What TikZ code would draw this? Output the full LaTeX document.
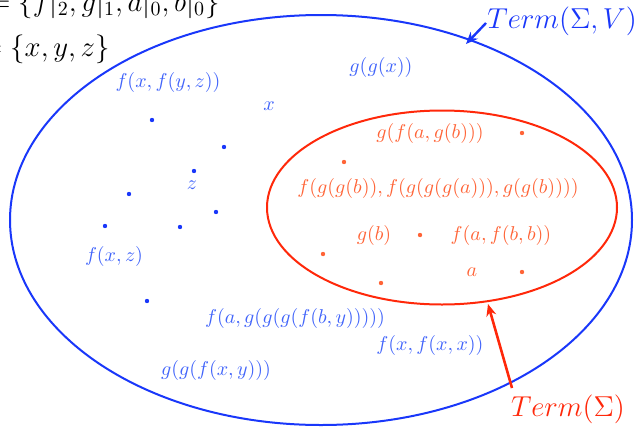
\documentclass[tikz,border=0pt]{standalone}
\usetikzlibrary{arrows.meta}
\definecolor{bl}{RGB}{25,55,250}
\definecolor{blt}{RGB}{65,100,250}
\definecolor{rd}{RGB}{255,40,10}
\definecolor{rdt}{RGB}{255,100,55}
\begin{document}
\begin{tikzpicture}[x=0.5pt,y=-0.5pt,
  bdot/.style={circle,fill=bl,inner sep=0pt,minimum size=2.2pt},
  rdot/.style={circle,fill=rdt,inner sep=0pt,minimum size=2.2pt},
  blab/.style={text=blt,inner sep=0pt},
  rlab/.style={text=rdt,inner sep=0pt},
  big/.style={inner sep=0pt,font=\Large},
  setline/.style={line width=1pt}]
\useasboundingbox (0,0) rectangle (637,429);
% header text
\node[big,anchor=base east] (sig) at (220,11) {$\Sigma=\{f|_2,g|_1,a|_0,b|_0\}$};
\node[big,anchor=base east] (var) at (110,56) {$V=\{x,y,z\}$};
% ellipses
\draw[setline,bl] (321,220) ellipse [x radius=155.5pt, y radius=102.5pt];
\draw[setline,rd] (442,207.5) ellipse [x radius=87.5pt, y radius=48.5pt];
% blue labels
\node[blab] (l1) at (168,82) {$f(x,f(y,z))$};
\node[blab] (l2) at (269,106) {$x$};
\node[blab] (l3) at (381,67) {$g(g(x))$};
\node[blab] (l4) at (192,185) {$z$};
\node[blab] (l5) at (114,256) {$f(x,z)$};
\node[blab] (l6) at (295,318) {$f(a,g(g(g(f(b,y)))))$};
\node[blab] (l7) at (430,345) {$f(x,f(x,x))$};
\node[blab] (l8) at (216,370) {$g(g(f(x,y)))$};
% blue dots
\node[bdot] (b1) at (152,120) {};
\node[bdot] (b2) at (224,147) {};
\node[bdot] (b3) at (194,171) {};
\node[bdot] (b4) at (129,194) {};
\node[bdot] (b5) at (216,212) {};
\node[bdot] (b6) at (105,226) {};
\node[bdot] (b7) at (180,227) {};
\node[bdot] (b8) at (147,301) {};
% red labels
\node[rlab] (r1) at (430,133) {$g(f(a,g(b)))$};
\node[rlab] (r2) at (438,188) {$f(g(g(b)),f(g(g(g(a))),g(g(b))))$};
\node[rlab] (r3) at (374,235) {$g(b)$};
\node[rlab] (r4) at (501,235) {$f(a,f(b,b))$};
\node[rlab] (r5) at (472,272) {$a$};
% red dots
\node[rdot] (d1) at (522,133) {};
\node[rdot] (d2) at (344,162) {};
\node[rdot] (d3) at (420,235) {};
\node[rdot] (d4) at (323,254) {};
\node[rdot] (d5) at (522,272) {};
\node[rdot] (d6) at (381,283) {};
% set labels with arrows
\node[big,text=bl,anchor=west] (tv) at (487,21) {$Term(\Sigma,V)$};
\coordinate (tvs) at (486,23);
\coordinate (tvt) at (466,44);
\draw[bl,line width=1.2pt,-{Stealth[length=6pt,width=5pt]}] (tvs) -- (tvt);
\node[big,text=rd] (ts) at (568,409) {$Term(\Sigma)$};
\coordinate (tss) at (512,388);
\coordinate (tst) at (488,304);
\draw[rd,line width=1.3pt,-{Stealth[length=6pt,width=5pt]}] (tss) -- (tst);
\end{tikzpicture}
\end{document}
